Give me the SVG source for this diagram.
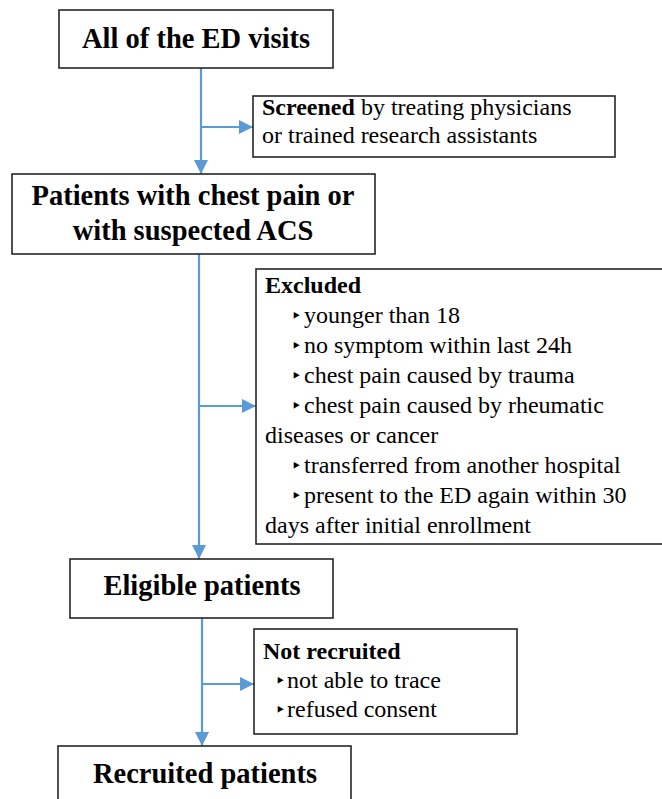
<svg xmlns="http://www.w3.org/2000/svg" width="662" height="799" viewBox="0 0 662 799">
<style>
.box{fill:#fff;stroke:#262626;stroke-width:1.6}
.t{font-family:"Liberation Serif","Times New Roman",serif;fill:#000}
.title{font-size:28.5px;font-weight:bold;text-anchor:middle}
.body{font-size:24px}
.b{font-weight:bold}
.bul{font-family:"DejaVu Sans",sans-serif;font-size:18px;fill:#000}
.con{stroke:#5B9BD5;stroke-width:2.2;fill:none}
</style>
<defs>
<marker id="ah" markerUnits="userSpaceOnUse" markerWidth="14" markerHeight="14" refX="14" refY="7" orient="auto">
<path d="M0,0 L14,7 L0,14 z" fill="#5B9BD5"/>
</marker>
</defs>
<rect width="662" height="799" fill="#fff"/>
<g id="connectors">
<line class="con" x1="201" y1="68" x2="201" y2="174" marker-end="url(#ah)"/>
<line class="con" x1="201" y1="127" x2="253" y2="127" marker-end="url(#ah)"/>
<line class="con" x1="199" y1="254" x2="199" y2="559" marker-end="url(#ah)"/>
<line class="con" x1="199" y1="406" x2="256" y2="406" marker-end="url(#ah)"/>
<line class="con" x1="202" y1="618" x2="202" y2="746" marker-end="url(#ah)"/>
<line class="con" x1="202" y1="684" x2="254" y2="684" marker-end="url(#ah)"/>
</g>
<g id="n-all">
<rect class="box" x="59" y="10" width="274" height="58"/>
<text class="t title" x="196" y="48">All of the ED visits</text>
</g>
<g id="n-screened">
<rect class="box" x="253" y="96" width="362" height="61"/>
<text class="t body" x="262" y="115"><tspan class="b">Screened</tspan> by treating physicians</text>
<text class="t body" x="262" y="143">or trained research assistants</text>
</g>
<g id="n-patients">
<rect class="box" x="12" y="174" width="363" height="80"/>
<text class="t title" x="193" y="205">Patients with chest pain or</text>
<text class="t title" x="193" y="240">with suspected ACS</text>
</g>
<g id="n-excluded">
<rect class="box" x="256" y="269" width="430" height="275"/>
<text class="t body b" x="265" y="293">Excluded</text>
<text class="bul" x="291" y="322">‣</text>
<text class="t body" x="304" y="323">younger than 18</text>
<text class="bul" x="291" y="352">‣</text>
<text class="t body" x="304" y="353">no symptom within last 24h</text>
<text class="bul" x="291" y="382">‣</text>
<text class="t body" x="304" y="383">chest pain caused by trauma</text>
<text class="bul" x="291" y="412">‣</text>
<text class="t body" x="304" y="413">chest pain caused by rheumatic</text>
<text class="t body" x="265" y="443">diseases or cancer</text>
<text class="bul" x="291" y="472">‣</text>
<text class="t body" x="304" y="473">transferred from another hospital</text>
<text class="bul" x="291" y="502">‣</text>
<text class="t body" x="304" y="503">present to the ED again within 30</text>
<text class="t body" x="265" y="533">days after initial enrollment</text>
</g>
<g id="n-eligible">
<rect class="box" x="70" y="559" width="263" height="59"/>
<text class="t title" x="202" y="595">Eligible patients</text>
</g>
<g id="n-notrecruited">
<rect class="box" x="254" y="629" width="263" height="105"/>
<text class="t body b" x="263" y="659">Not recruited</text>
<text class="bul" x="275" y="687">‣</text>
<text class="t body" x="287" y="688">not able to trace</text>
<text class="bul" x="275" y="716">‣</text>
<text class="t body" x="287" y="717">refused consent</text>
</g>
<g id="n-recruited">
<rect class="box" x="58" y="746" width="293" height="80"/>
<text class="t title" x="205" y="783">Recruited patients</text>
</g>
</svg>
